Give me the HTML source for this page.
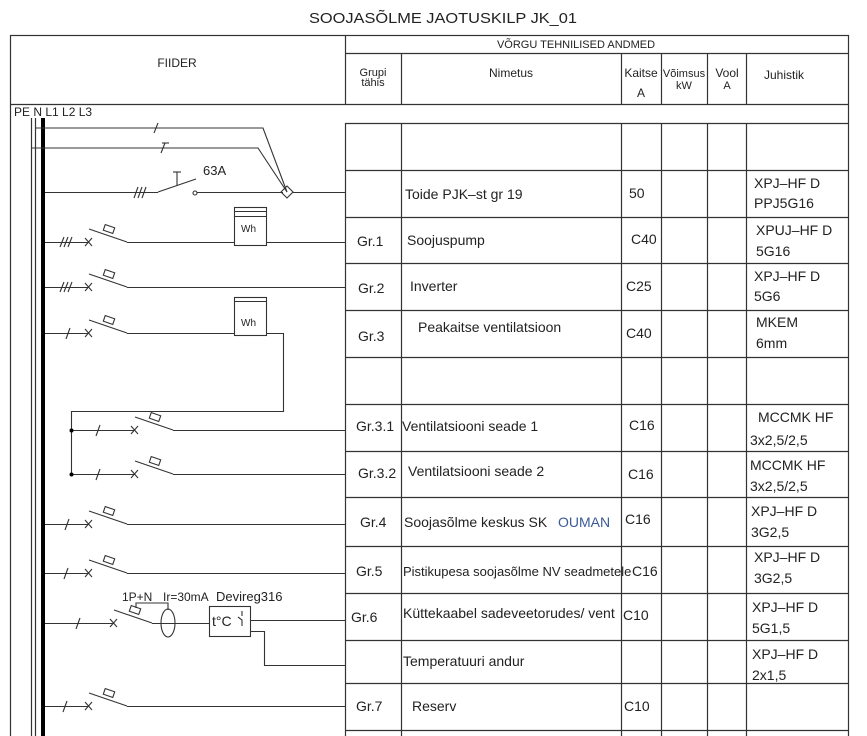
<!DOCTYPE html>
<html><head><meta charset="utf-8"><style>
body{margin:0;background:#fff;}
svg{display:block;}
text{font-family:"Liberation Sans",sans-serif;fill:#222;}
</style></head><body>
<svg width="867" height="736" viewBox="0 0 867 736" xmlns="http://www.w3.org/2000/svg">
<text x="443" y="23" font-size="15" text-anchor="middle" textLength="268" lengthAdjust="spacingAndGlyphs">SOOJASÕLME JAOTUSKILP  JK_01</text>
<g stroke="#333" stroke-width="1.2" fill="none">
<rect x="10.5" y="35.5" width="838" height="710"/>
<line x1="10" y1="104.5" x2="849" y2="104.5"/>
<line x1="345.5" y1="35" x2="345.5" y2="104"/>
<line x1="345" y1="53.5" x2="849" y2="53.5"/>
<line x1="401.5" y1="53" x2="401.5" y2="104"/>
<line x1="621.5" y1="53" x2="621.5" y2="104"/>
<line x1="661.5" y1="53" x2="661.5" y2="104"/>
<line x1="707.5" y1="53" x2="707.5" y2="104"/>
<line x1="746.5" y1="53" x2="746.5" y2="104"/>
<line x1="345.5" y1="123" x2="345.5" y2="736"/>
<line x1="401.5" y1="123" x2="401.5" y2="736"/>
<line x1="621.5" y1="123" x2="621.5" y2="736"/>
<line x1="661.5" y1="123" x2="661.5" y2="736"/>
<line x1="707.5" y1="123" x2="707.5" y2="736"/>
<line x1="746.5" y1="123" x2="746.5" y2="736"/>
<line x1="345" y1="123.5" x2="849" y2="123.5"/>
<line x1="345" y1="170.5" x2="849" y2="170.5"/>
<line x1="345" y1="217.5" x2="849" y2="217.5"/>
<line x1="345" y1="263.5" x2="849" y2="263.5"/>
<line x1="345" y1="310.5" x2="849" y2="310.5"/>
<line x1="345" y1="357.5" x2="849" y2="357.5"/>
<line x1="345" y1="404.5" x2="849" y2="404.5"/>
<line x1="345" y1="451.5" x2="849" y2="451.5"/>
<line x1="345" y1="497.5" x2="849" y2="497.5"/>
<line x1="345" y1="546.5" x2="849" y2="546.5"/>
<line x1="345" y1="593.5" x2="849" y2="593.5"/>
<line x1="345" y1="640.5" x2="849" y2="640.5"/>
<line x1="345" y1="683.5" x2="849" y2="683.5"/>
<line x1="345" y1="730.5" x2="849" y2="730.5"/>
<line x1="31.5" y1="118" x2="31.5" y2="736"/>
<line x1="35.5" y1="118" x2="35.5" y2="736"/>
</g>
<rect x="41" y="118" width="4" height="618" fill="#000"/>
<g stroke="#333" stroke-width="1.1" fill="none">
<polyline points="35,128 263,128 287,192"/>
<polyline points="31,148 258,148 287,192"/>
<line x1="158" y1="123" x2="154" y2="133"/>
<line x1="165" y1="143" x2="161" y2="153"/><line x1="162" y1="143" x2="169" y2="143"/>
<line x1="45" y1="192.5" x2="158" y2="192.5"/>
<line x1="134" y1="198" x2="138" y2="187"/><line x1="138" y1="198" x2="142" y2="187"/><line x1="142" y1="198" x2="146" y2="187"/>
<line x1="158" y1="192" x2="196" y2="179"/>
<line x1="177" y1="186" x2="177" y2="172"/><line x1="173" y1="172" x2="181" y2="172"/>
<circle cx="195" cy="193" r="2"/>
<line x1="197" y1="192.5" x2="283" y2="192.5"/>
<polygon points="287,186 293,192 287,198 281,192"/>
<line x1="293" y1="192.5" x2="345" y2="192.5"/>
<line x1="45" y1="242.5" x2="88" y2="242.5"/>
<line x1="60" y1="247" x2="64" y2="237"/><line x1="64" y1="247" x2="68" y2="237"/><line x1="68" y1="247" x2="72" y2="237"/>
<path d="M85 238 l7 8 M92 238 l-7 8"/>
<line x1="89" y1="229" x2="127" y2="242"/>
<rect x="104" y="226" width="10" height="6" transform="rotate(19 109 229)"/>
<line x1="127" y1="242.5" x2="234" y2="242.5"/>
<rect x="234.5" y="207.5" width="32" height="38"/>
<line x1="234" y1="211.5" x2="266" y2="211.5"/><line x1="234" y1="216.5" x2="266" y2="216.5"/>
<line x1="266" y1="242.5" x2="345" y2="242.5"/>
<line x1="45" y1="287.5" x2="88" y2="287.5"/>
<line x1="60" y1="292" x2="64" y2="282"/><line x1="64" y1="292" x2="68" y2="282"/><line x1="68" y1="292" x2="72" y2="282"/>
<path d="M85 283 l7 8 M92 283 l-7 8"/>
<line x1="89" y1="274" x2="127" y2="287"/>
<rect x="104" y="271" width="10" height="6" transform="rotate(19 109 274)"/>
<line x1="127" y1="287.5" x2="345" y2="287.5"/>
<line x1="45" y1="333.5" x2="88" y2="333.5"/>
<line x1="66" y1="339" x2="70" y2="328"/>
<path d="M85 329 l7 8 M92 329 l-7 8"/>
<line x1="89" y1="320" x2="127" y2="333"/>
<rect x="104" y="317" width="10" height="6" transform="rotate(19 109 320)"/>
<line x1="127" y1="333.5" x2="234" y2="333.5"/>
<rect x="234.5" y="297.5" width="32" height="38"/>
<line x1="234" y1="301.5" x2="266" y2="301.5"/>
<polyline points="266,333.5 283.5,333.5 283.5,411.5 71.5,411.5 71.5,474"/>
<line x1="71" y1="430.5" x2="135" y2="430.5"/>
<line x1="96" y1="436" x2="100" y2="425"/>
<path d="M131 426 l7 8 M138 426 l-7 8"/>
<line x1="135" y1="417" x2="173" y2="430"/>
<rect x="150" y="414" width="10" height="6" transform="rotate(19 155 417)"/>
<line x1="173" y1="430.5" x2="345" y2="430.5"/>
<line x1="71" y1="474.5" x2="135" y2="474.5"/>
<line x1="96" y1="480" x2="100" y2="469"/>
<path d="M131 470 l7 8 M138 470 l-7 8"/>
<line x1="135" y1="461" x2="173" y2="474"/>
<rect x="150" y="458" width="10" height="6" transform="rotate(19 155 461)"/>
<line x1="173" y1="474.5" x2="345" y2="474.5"/>
<line x1="45" y1="524.5" x2="88" y2="524.5"/>
<line x1="65" y1="530" x2="69" y2="519"/>
<path d="M85 520 l7 8 M92 520 l-7 8"/>
<line x1="89" y1="511" x2="127" y2="524"/>
<rect x="104" y="508" width="10" height="6" transform="rotate(19 109 511)"/>
<line x1="127" y1="524.5" x2="345" y2="524.5"/>
<line x1="45" y1="573.5" x2="88" y2="573.5"/>
<line x1="64" y1="579" x2="68" y2="568"/>
<path d="M85 569 l7 8 M92 569 l-7 8"/>
<line x1="89" y1="560" x2="127" y2="573"/>
<rect x="104" y="557" width="10" height="6" transform="rotate(19 109 560)"/>
<line x1="127" y1="573.5" x2="345" y2="573.5"/>
<line x1="45" y1="623.5" x2="113" y2="623.5"/>
<line x1="76" y1="629" x2="80" y2="618"/>
<path d="M110 619 l7 8 M117 619 l-7 8"/>
<line x1="114" y1="610" x2="152" y2="623"/>
<rect x="130" y="607" width="10" height="6" transform="rotate(19 135 610)"/>
<polyline points="136,608 136,603 168,603 168,610"/>
<ellipse cx="168" cy="623" rx="7" ry="14"/>
<line x1="152" y1="623.5" x2="209" y2="623.5"/>
<rect x="209.5" y="606.5" width="41" height="30"/>
<path d="M242 611 v5 M238 617 l4 3 v6"/>
<line x1="250" y1="620.5" x2="345" y2="620.5"/>
<polyline points="250,631.5 264.5,631.5 264.5,665.5 345,665.5"/>
<line x1="45" y1="706.5" x2="88" y2="706.5"/>
<line x1="63" y1="712" x2="67" y2="701"/>
<path d="M85 702 l7 8 M92 702 l-7 8"/>
<line x1="89" y1="693" x2="127" y2="706"/>
<rect x="104" y="690" width="10" height="6" transform="rotate(19 109 693)"/>
<line x1="127" y1="706.5" x2="345" y2="706.5"/>
</g>
<circle cx="71.5" cy="430.5" r="2" fill="#000"/>
<circle cx="71.5" cy="474.5" r="2" fill="#000"/>
<g font-size="11">
<text x="177" y="67" text-anchor="middle" font-size="12">FIIDER</text>
<text x="576" y="48" text-anchor="middle" font-size="11">VÕRGU  TEHNILISED  ANDMED</text>
<text x="373" y="76" text-anchor="middle" font-size="11">Grupi</text>
<text x="373" y="86" text-anchor="middle" font-size="11">tähis</text>
<text x="511" y="77" text-anchor="middle" font-size="12">Nimetus</text>
<text x="641" y="77" text-anchor="middle" font-size="12">Kaitse</text>
<text x="641" y="97" text-anchor="middle" font-size="12">A</text>
<text x="684" y="77" text-anchor="middle" font-size="11">Võimsus</text>
<text x="684" y="89" text-anchor="middle" font-size="11">kW</text>
<text x="727" y="77" text-anchor="middle" font-size="12">Vool</text>
<text x="727" y="89" text-anchor="middle" font-size="11">A</text>
<text x="784" y="79" text-anchor="middle" font-size="12">Juhistik</text>
<text x="14" y="116" font-size="12">PE N  L1  L2  L3</text>
<text x="203" y="175" font-size="13">63A</text>
<text x="241" y="232" font-size="10">Wh</text>
<text x="241" y="326" font-size="10">Wh</text>
<text x="122" y="601" font-size="12">1P+N</text>
<text x="163" y="601" font-size="12">Ir=30mA</text>
<text x="216" y="601" font-size="13">Devireg316</text>
<text x="212" y="626" font-size="14">t°C</text>
</g>
<g font-size="14">
<text x="405" y="199">Toide  PJK–st  gr  19</text><text x="629" y="198">50</text>
<text x="754" y="188">XPJ–HF  D</text><text x="754" y="208">PPJ5G16</text>
<text x="357" y="246">Gr.1</text><text x="407" y="245">Soojuspump</text><text x="631" y="244">C40</text>
<text x="756" y="235">XPUJ–HF  D</text><text x="756" y="256">5G16</text>
<text x="358" y="293">Gr.2</text><text x="410" y="291">Inverter</text><text x="626" y="291">C25</text>
<text x="754" y="281">XPJ–HF  D</text><text x="754" y="301">5G6</text>
<text x="358" y="341">Gr.3</text><text x="418" y="332">Peakaitse  ventilatsioon</text><text x="626" y="338">C40</text>
<text x="756" y="327">MKEM</text><text x="756" y="348">6mm</text>
<text x="356" y="431">Gr.3.1</text><text x="402" y="431">Ventilatsiooni  seade  1</text><text x="629" y="430">C16</text>
<text x="758" y="422">MCCMK  HF</text><text x="750" y="445">3x2,5/2,5</text>
<text x="358" y="478">Gr.3.2</text><text x="408" y="476">Ventilatsiooni  seade  2</text><text x="628" y="479">C16</text>
<text x="750" y="470">MCCMK  HF</text><text x="750" y="491">3x2,5/2,5</text>
<text x="360" y="527">Gr.4</text><text x="404" y="527">Soojasõlme  keskus  SK</text><text x="558" y="527" style="fill:#3a5a9a">OUMAN</text><text x="625" y="524">C16</text>
<text x="751" y="516">XPJ–HF  D</text><text x="751" y="537">3G2,5</text>
<text x="356" y="576">Gr.5</text><text x="403" y="576" font-size="13">Pistikupesa  soojasõlme  NV  seadmetele</text><text x="632" y="576">C16</text>
<text x="754" y="562">XPJ–HF  D</text><text x="754" y="583">3G2,5</text>
<text x="351" y="622">Gr.6</text><text x="403" y="618">Küttekaabel  sadeveetorudes/  vent</text><text x="623" y="620">C10</text>
<text x="752" y="612">XPJ–HF  D</text><text x="752" y="633">5G1,5</text>
<text x="403" y="666">Temperatuuri  andur</text>
<text x="752" y="659">XPJ–HF  D</text><text x="752" y="680">2x1,5</text>
<text x="356" y="711">Gr.7</text><text x="412" y="711">Reserv</text><text x="624" y="711">C10</text>
</g>
</svg>
</body></html>
